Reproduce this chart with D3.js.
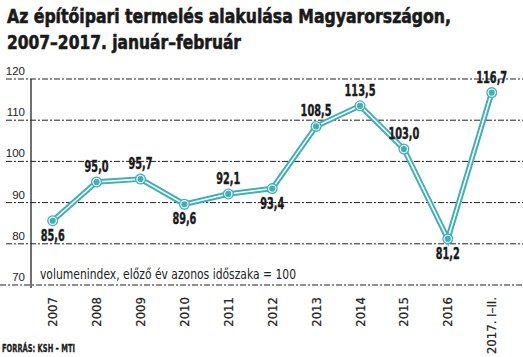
<!DOCTYPE html>
<html><head><meta charset="utf-8">
<script src="https://cdn.jsdelivr.net/npm/d3@7"></script>
<style>
html,body{margin:0;padding:0;background:#fff;}
svg{display:block;}
</style></head>
<body>
<script>
const categories = ["2007","2008","2009","2010","2011","2012","2013","2014","2015","2016","2017. I–II."];
const values = [85.6, 95.0, 95.7, 89.6, 92.1, 93.4, 108.5, 113.5, 103.0, 81.2, 116.7];
const valueLabels = ["85,6","95,0","95,7","89,6","92,1","93,4","108,5","113,5","103,0","81,2","116,7"];
const labelSide = ["below","above","above","below","above","below","above","above","above","below","above"];
const yTicks = [70, 80, 90, 100, 110, 120];
const titleLines = ["Az építőipari termelés alakulása Magyarországon,", "2007–2017. január–február"];
const noteText = "volumenindex, előző év azonos időszaka = 100";
const sourceText = "FORRÁS: KSH – MTI";

const W = 523, H = 357;
const teal = "#3fafb8";
const ink = "#1a1a1a";
const narrow = "'Liberation Sans Narrow', 'DejaVu Sans Condensed', 'Liberation Sans', sans-serif";

const svg = d3.select("body").append("svg").attr("width", W).attr("height", H);

const x = d3.scalePoint().domain(categories).range([52.7, 491.7]);
const y = d3.scaleLinear().domain([70, 120]).range([285, 79]);

// title
svg.append("g").selectAll("text").data(titleLines).join("text")
  .attr("x", 7).attr("y", (d, i) => 23 + i * 25.5)
  .attr("font-family", narrow).attr("font-weight", "bold").attr("font-size", 20)
  .attr("fill", ink).attr("stroke", ink).attr("stroke-width", 0.6)
  .attr("textLength", (d, i) => i === 0 ? 444 : 234)
  .attr("lengthAdjust", "spacingAndGlyphs")
  .text(d => d);

// gridlines
svg.append("g").selectAll("line").data(yTicks).join("line")
  .attr("x1", d => d === 70 ? 0 : 6).attr("x2", W)
  .attr("y1", d => y(d)).attr("y2", d => y(d))
  .attr("stroke", "#222").attr("stroke-width", 1)
  .attr("stroke-dasharray", "6,2,2,2");

// y axis tick labels
svg.append("g").selectAll("text").data(yTicks).join("text")
  .attr("x", 25).attr("y", d => y(d) - 4)
  .attr("text-anchor", "end")
  .attr("font-family", "'Liberation Sans', sans-serif").attr("font-size", 11.5)
  .attr("fill", "#222")
  .text(d => d);

// vertical axis line
svg.append("line").attr("x1", 31).attr("x2", 31).attr("y1", y(120)).attr("y2", 288)
  .attr("stroke", "#222").attr("stroke-width", 1.3);

// note
svg.append("text").attr("x", 40).attr("y", 279)
  .attr("font-family", narrow).attr("font-size", 14).attr("fill", "#222")
  .attr("textLength", 256).attr("lengthAdjust", "spacingAndGlyphs")
  .text(noteText);

// x labels
svg.append("g").selectAll("text").data(categories).join("text")
  .attr("transform", d => `translate(${x(d)},297) rotate(-90)`)
  .attr("text-anchor", "end").attr("dy", "0.35em")
  .attr("font-family", narrow).attr("font-size", 13).attr("fill", "#222")
  .attr("stroke", "#222").attr("stroke-width", 0.2)
  .text(d => d);

// line
const pts = categories.map((c, i) => [x(c), y(values[i])]);
const line = d3.line();
svg.append("path").attr("d", line(pts)).attr("fill", "none")
  .attr("stroke", teal).attr("stroke-width", 5.5).attr("stroke-linejoin", "miter");
svg.append("path").attr("d", line(pts)).attr("fill", "none")
  .attr("stroke", "#fff").attr("stroke-width", 1.6).attr("stroke-linejoin", "miter");

// markers
const mk = svg.append("g").selectAll("g").data(pts).join("g")
  .attr("transform", d => `translate(${d[0]},${d[1]})`);
mk.append("circle").attr("r", 5.5).attr("fill", teal);
mk.append("circle").attr("r", 4.2).attr("fill", "#fff");
mk.append("circle").attr("r", 3.1).attr("fill", teal);

// value labels
svg.append("g").selectAll("text").data(categories).join("text")
  .attr("x", d => x(d))
  .attr("y", (d, i) => y(values[i]) + (labelSide[i] === "below" ? 20 : -10))
  .attr("text-anchor", "middle")
  .attr("font-family", narrow).attr("font-weight", "bold").attr("font-size", 15)
  .attr("fill", ink).attr("stroke", ink).attr("stroke-width", 0.4)
  .attr("textLength", (d, i) => (valueLabels[i].length - 1) * 7 + 3)
  .attr("lengthAdjust", "spacingAndGlyphs")
  .text((d, i) => valueLabels[i]);

// source
svg.append("text").attr("x", 2).attr("y", 352)
  .attr("font-family", narrow).attr("font-weight", "bold").attr("font-size", 11)
  .attr("fill", ink).attr("stroke", ink).attr("stroke-width", 0.3)
  .attr("textLength", 73).attr("lengthAdjust", "spacingAndGlyphs")
  .text(sourceText);
</script>
</body></html>
